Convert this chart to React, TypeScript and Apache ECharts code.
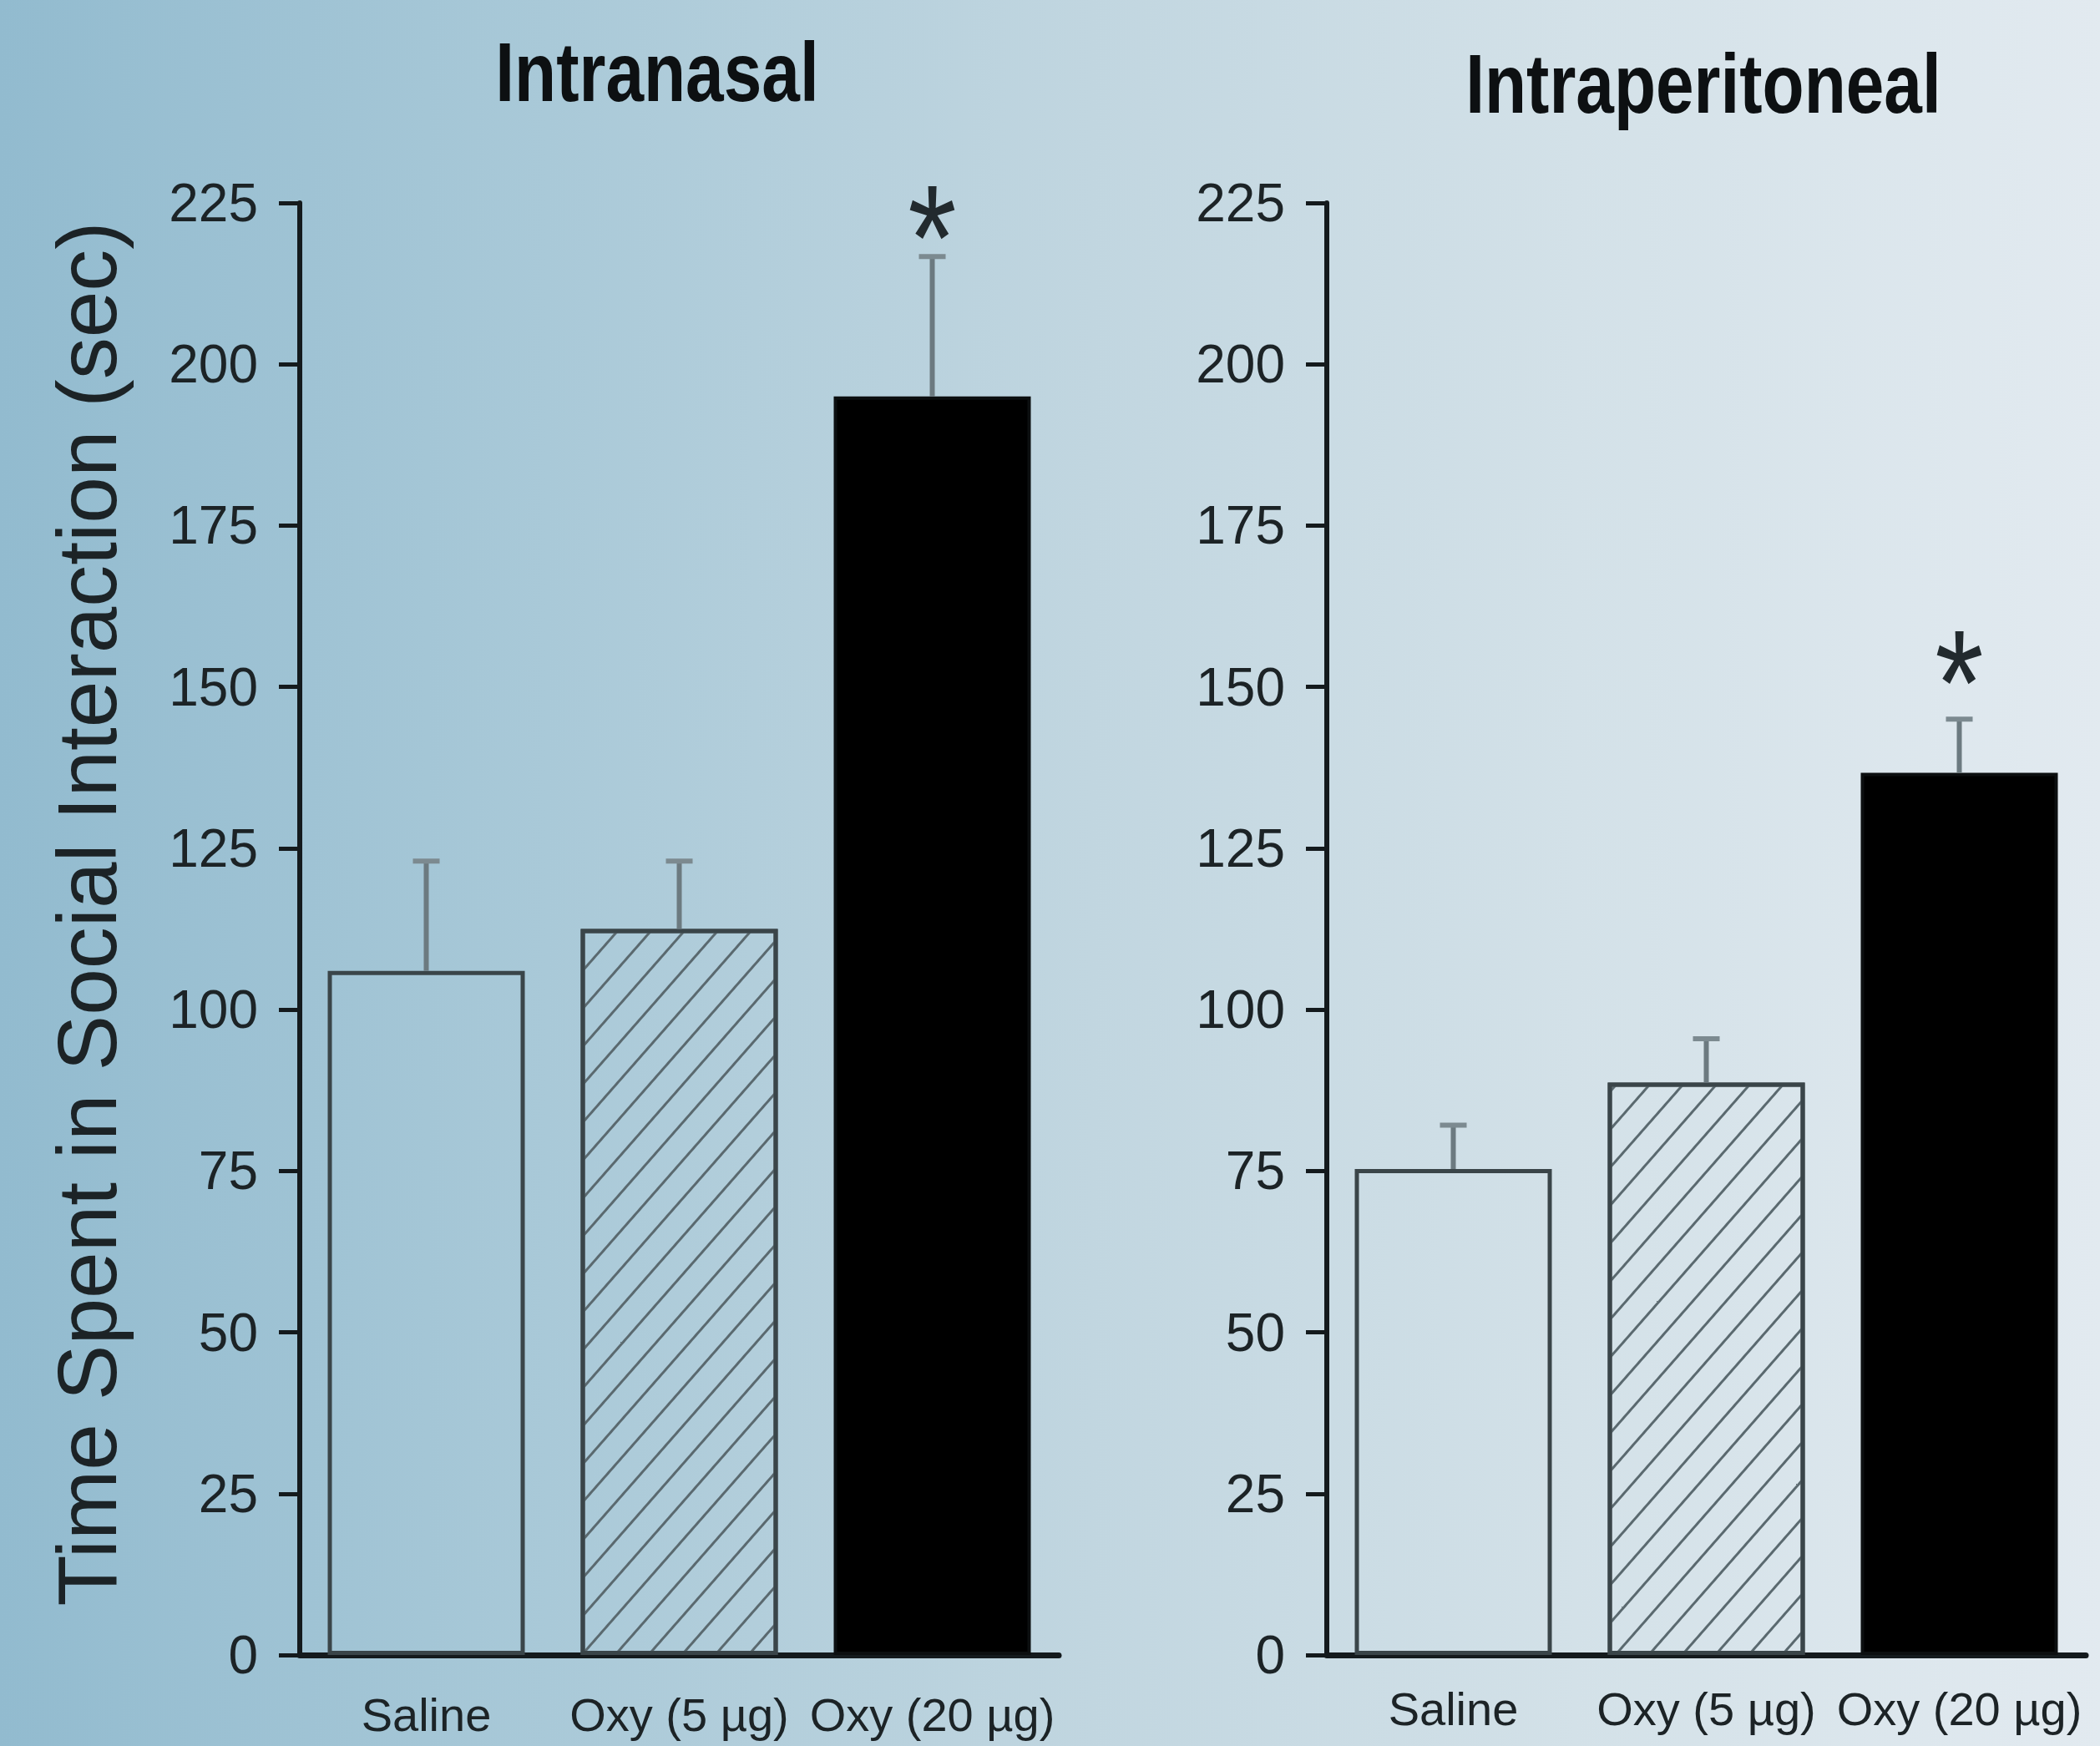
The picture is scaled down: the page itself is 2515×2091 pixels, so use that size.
import React, { useEffect, useRef } from 'react';
import * as echarts from 'echarts';

// ---- Data ----
const categories = ['Saline', 'Oxy (5 µg)', 'Oxy (20 µg)'];
const panelTitles = ['Intranasal', 'Intraperitoneal'];
const yAxisTitle = 'Time Spent in Social Interaction (sec)';
const yMin = 0;
const yMax = 225;
const yInterval = 25;

const intranasalMean = [106, 112.5, 195];
const intranasalErrTop = [123, 123, 216.7];
const intranasalStar: (number | null)[] = [null, null, 223.5];

const intraperitonealMean = [75.3, 88.7, 136.7];
const intraperitonealErrTop = [82.1, 95.5, 145];
const intraperitonealStar: (number | null)[] = [null, null, 154.6];

// ---- Styles ----
const FONT = "'Liberation Sans', Arial, sans-serif";
const AXIS_COLOR = '#141a1d';
const TEXT_COLOR = '#1c2326';
const BORDER = '#3a4549';
const ERR_COLOR = '#6c7a80';

const barStyles = [
  { color: 'rgba(0,0,0,0)', borderColor: BORDER, borderWidth: 5 },
  {
    color: 'rgba(0,0,0,0)',
    borderColor: BORDER,
    borderWidth: 5,
    decal: {
      symbol: 'rect',
      symbolSize: 1,
      dashArrayX: [1, 0],
      dashArrayY: [3, 27],
      rotation: -0.85,
      color: '#5a696f',
    },
  },
  { color: '#000000', borderColor: '#0c0f10', borderWidth: 4 },
];

const grids = [
  { left: 359, top: 243, width: 909, bottom: 109 },
  { left: 1589, top: 243, width: 909, bottom: 109 },
];

function buildPanel(idx: number, mean: number[], err: number[], star: (number | null)[]) {
  const xAxis = {
    type: 'category',
    gridIndex: idx,
    data: categories.map((c) => ({ value: c })),
    axisLine: { show: true, lineStyle: { color: AXIS_COLOR, width: 7 } },
    axisTick: { show: false },
    axisLabel: {
      interval: 0,
      hideOverlap: false,
      fontSize: 56,
      fontFamily: FONT,
      color: TEXT_COLOR,
      margin: idx === 0 ? 43 : 36,
    },
  };
  const yAxis: any = {
    type: 'value',
    gridIndex: idx,
    min: yMin,
    max: yMax,
    interval: yInterval,
    axisLine: { show: true, lineStyle: { color: AXIS_COLOR, width: 6 } },
    axisTick: { show: true, length: 25, lineStyle: { color: AXIS_COLOR, width: 5 } },
    axisLabel: { fontSize: 64, fontFamily: FONT, color: TEXT_COLOR, margin: 50 },
    splitLine: { show: false },
  };
  if (idx === 0) {
    yAxis.name = yAxisTitle;
    yAxis.nameLocation = 'middle';
    yAxis.nameGap = 205;
    yAxis.nameTextStyle = {
      fontSize: 100,
      fontFamily: FONT,
      color: TEXT_COLOR,
      padding: [0, 0, 0, 36],
    };
  }
  const series: any[] = [
    {
      type: 'bar',
      xAxisIndex: idx,
      yAxisIndex: idx,
      barWidth: 236,
      data: mean.map((v, i) => ({ value: v, itemStyle: barStyles[i] })),
      z: 2,
    },
    {
      type: 'custom',
      xAxisIndex: idx,
      yAxisIndex: idx,
      z: 3,
      data: mean.map((v, i) => [i, v, err[i]]),
      renderItem: (params: any, api: any) => {
        const i = api.value(0);
        const base = api.coord([i, api.value(1)]);
        const top = api.coord([i, api.value(2)]);
        return {
          type: 'group',
          children: [
            {
              type: 'line',
              shape: { x1: base[0], y1: base[1], x2: top[0], y2: top[1] },
              style: { stroke: ERR_COLOR, lineWidth: 6 },
            },
            {
              type: 'line',
              shape: { x1: top[0] - 16, y1: top[1], x2: top[0] + 16, y2: top[1] },
              style: { stroke: '#7c8a90', lineWidth: 6 },
            },
          ],
        };
      },
    },
    {
      type: 'custom',
      xAxisIndex: idx,
      yAxisIndex: idx,
      z: 4,
      data: star
        .map((s, i) => (s === null ? null : [i, s]))
        .filter((d) => d !== null),
      renderItem: (params: any, api: any) => {
        const p = api.coord([api.value(0), api.value(1)]);
        return {
          type: 'text',
          x: p[0],
          y: p[1] + 30,
          scaleY: 1.2,
          style: {
            text: '*',
            fontSize: 150,
            fontFamily: FONT,
            fill: '#222a2e',
            align: 'center',
            verticalAlign: 'middle',
          },
        };
      },
    },
  ];
  return { xAxis, yAxis, series };
}

const titleX = [787, 2040];
const titleY = [86, 100];

export default function App() {
  const ref = useRef<HTMLDivElement>(null);
  useEffect(() => {
    if (!ref.current) return;
    const chart = echarts.init(ref.current, undefined, { renderer: 'svg' });
    const p0 = buildPanel(0, intranasalMean, intranasalErrTop, intranasalStar);
    const p1 = buildPanel(1, intraperitonealMean, intraperitonealErrTop, intraperitonealStar);
    chart.setOption({
      animation: false,
      backgroundColor: 'transparent',
      grid: grids,
      xAxis: [p0.xAxis, p1.xAxis],
      yAxis: [p0.yAxis, p1.yAxis],
      series: [...p0.series, ...p1.series],
      graphic: panelTitles.map((t, i) => ({
        type: 'text',
        x: titleX[i],
        y: titleY[i],
        scaleY: 1.22,
        style: {
          text: t,
          fontSize: 82,
          fontWeight: 'bold',
          fontFamily: FONT,
          fill: '#0d1012',
          align: 'center',
          verticalAlign: 'middle',
        },
      })),
    });
    return () => chart.dispose();
  }, []);
  return (
    <div
      ref={ref}
      style={{
        position: 'absolute',
        left: 0,
        top: 0,
        width: 2515,
        height: 2091,
        background:
          'linear-gradient(to right, #92bbcf 0%, #a9c9d8 26%, #c1d6e0 52%, #d3e1e8 75%, #e2eaf0 100%)',
      }}
    />
  );
}
